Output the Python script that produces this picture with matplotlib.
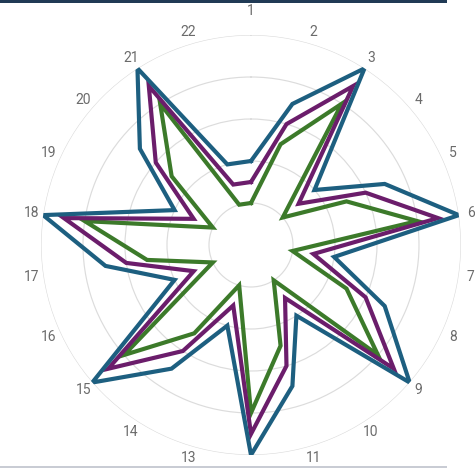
import numpy as np
import matplotlib.pyplot as plt
from matplotlib.patches import Rectangle

labels = ['1', '2', '3', '4', '5', '6', '7', '8', '9', '10', '11',
          '12', '13', '14', '15', '16', '17', '18', '19', '20', '21', '22']
blue = [40, 70, 100, 40, 70, 100, 40, 70, 100, 40, 70,
        100, 40, 70, 100, 40, 70, 100, 40, 70, 100, 40]
purple = [30, 60, 90, 30, 60, 90, 30, 60, 90, 30, 60,
          90, 30, 60, 90, 30, 60, 90, 30, 60, 90, 30]
green = [20, 50, 80, 20, 50, 80, 20, 50, 80, 20, 50,
         80, 20, 50, 80, 20, 50, 80, 20, 50, 80, 20]

n = len(labels)
theta = np.arange(n) * 2 * np.pi / n
th = np.append(theta, theta[0])

fig = plt.figure(figsize=(4.75, 4.68), dpi=100)
ax = fig.add_axes([0.0863, 0.0278, 0.8842, 0.8974], projection='polar')
ax.set_theta_zero_location('N')
ax.set_theta_direction(-1)
ax.set_ylim(0, 100)
ax.set_rgrids([20, 40, 60, 80, 100], labels=[])
ax.set_xticks(theta)
ax.set_xticklabels([])
ax.tick_params(length=0)
ax.xaxis.grid(False)
ax.yaxis.grid(True, color='#dcdcdc', lw=0.85)
ax.spines['polar'].set_visible(False)

for vals, col in [(green, '#3c7a2a'), (purple, '#6b1d6b'), (blue, '#1d5f80')]:
    ax.plot(th, np.append(vals, vals[0]), color=col, lw=3,
            solid_joinstyle='miter', zorder=3)

# point labels; the bottom one ("12") sits below the cropped canvas in the
# original, so it is not drawn
for t, lab in zip(theta, labels):
    deg = np.degrees(t)
    if np.isclose(deg, 180):
        continue
    if np.isclose(deg, 0):
        ax.text(t, 108, lab, ha='center', va='bottom', fontsize=10,
                color='#6b6b6b', family='Roboto')
    else:
        ax.text(t, 105.7, lab, ha='center', va='center', fontsize=10,
                color='#6b6b6b', family='Roboto')

fig.add_artist(Rectangle((0, 1 - 3 / 468), 447 / 475, 3 / 468,
                         transform=fig.transFigure, color='#203a55', lw=0))
fig.add_artist(Rectangle((0, 0), 447 / 475, 2 / 468,
                         transform=fig.transFigure, color='#c9ccd4', lw=0))

fig.savefig('out.png', dpi=100)
